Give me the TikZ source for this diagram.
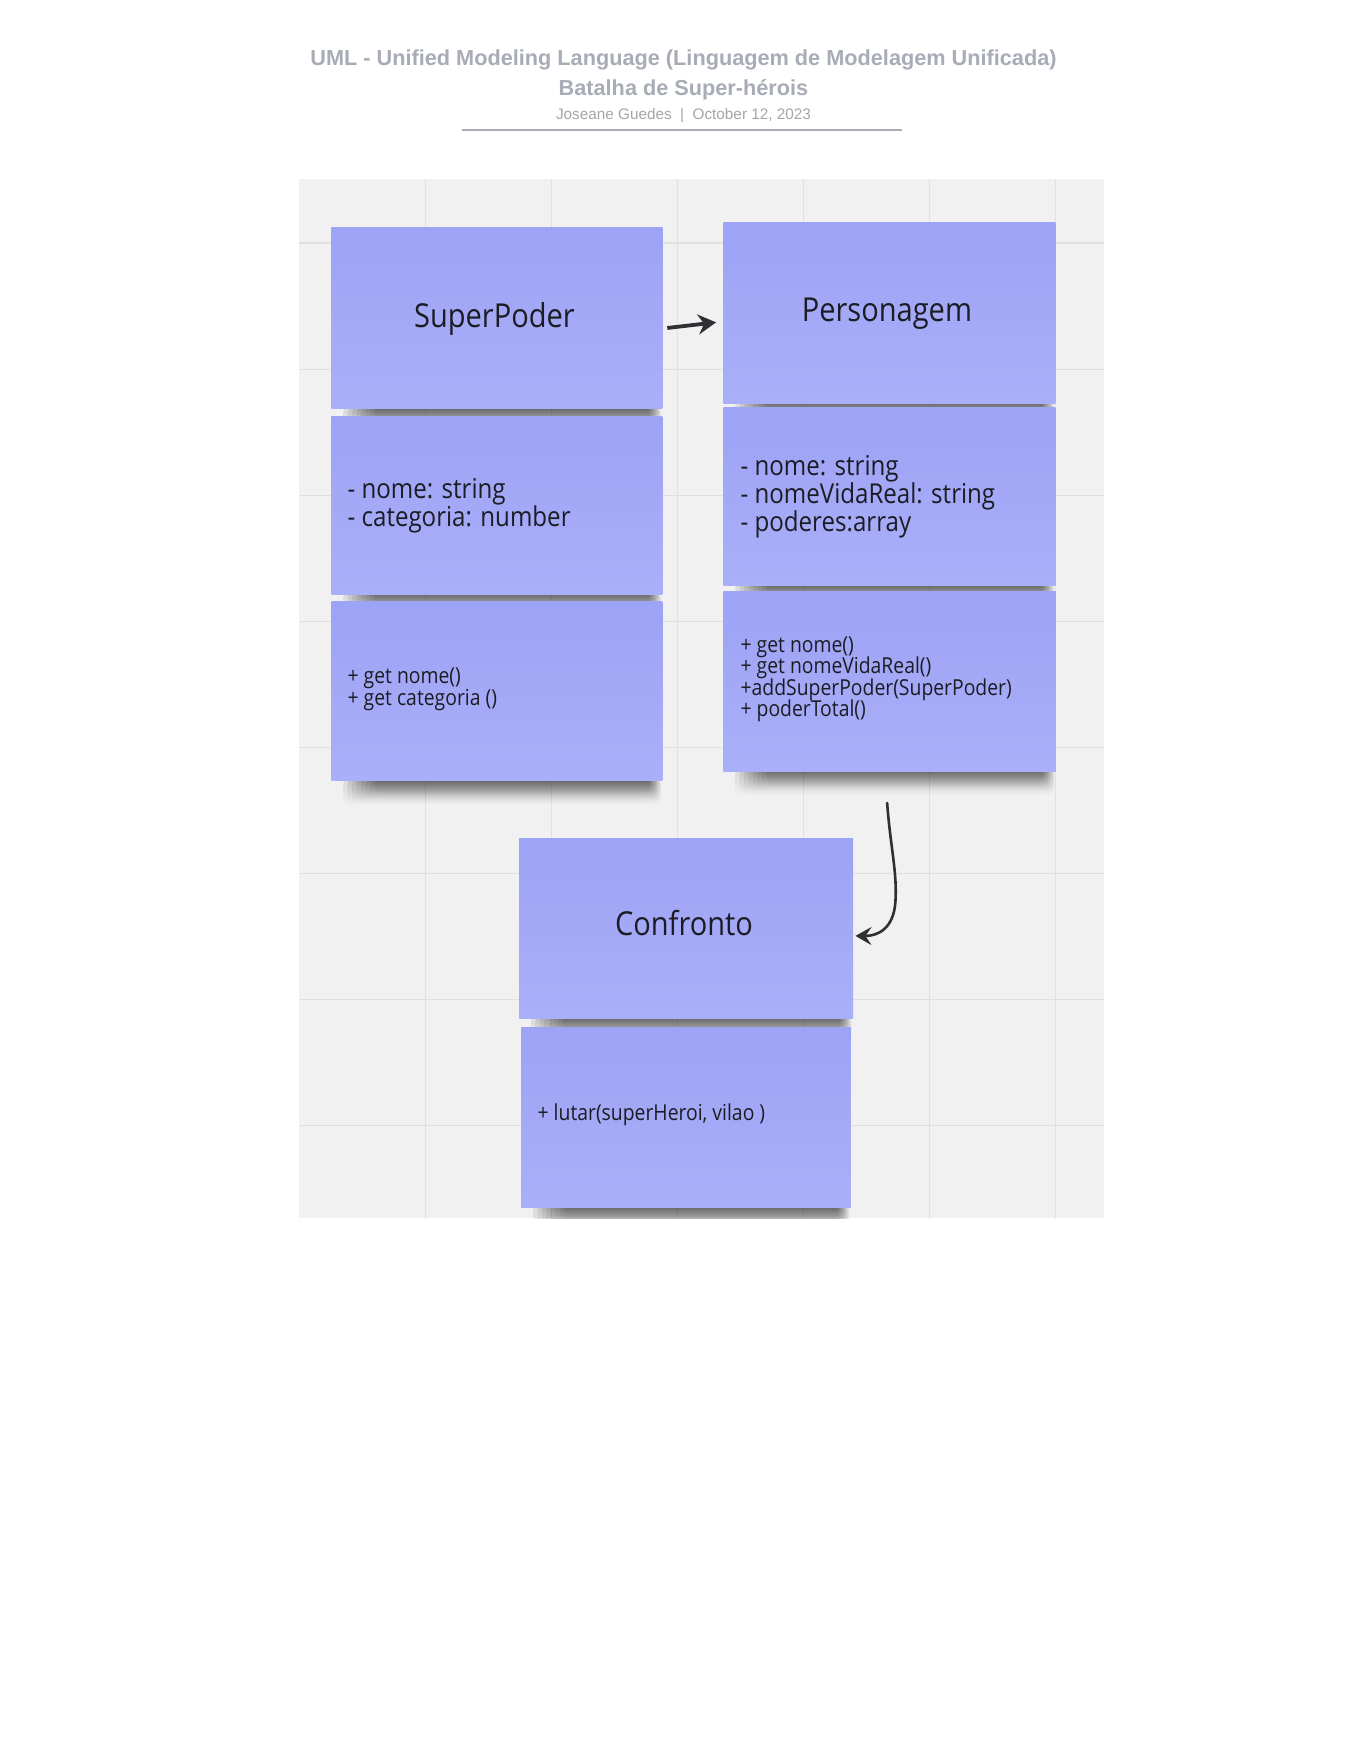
\documentclass[tikz,border=0pt]{standalone}
\usepackage{fontspec}
\setmainfont{Liberation Sans}
\newfontfamily\stickyfont[FakeStretch=0.88]{Open Sans}
\usetikzlibrary{arrows.meta,calc,fadings}
\definecolor{titlegrey}{RGB}{168,172,182}
\definecolor{metagrey}{RGB}{165,165,170}
\definecolor{boardbg}{RGB}{241,241,241}
\definecolor{gridline}{RGB}{224,224,224}
\definecolor{stickytop}{RGB}{157,163,245}
\definecolor{stickybot}{RGB}{169,175,248}
\definecolor{inktext}{RGB}{28,28,36}
\definecolor{arrowink}{RGB}{48,48,52}
\tikzfading[name=shadowfade, top color=transparent!0, bottom color=transparent!100]
\pgfdeclarelayer{boardlayer}
\pgfdeclarelayer{shadowlayer}
\pgfsetlayers{boardlayer,shadowlayer,main}
\tikzset{
  sticky/.style={rectangle, inner sep=0pt, top color=stickytop, bottom color=stickybot, draw=none},
  shadowband/.style={fill=black, opacity=0.11, path fading=shadowfade, rounded corners=4pt},
  headtext/.style={font=\stickyfont\fontsize{16.5}{18}\selectfont, text=inktext, inner sep=0pt},
  attrtext/.style={font={\stickyfont\fontsize{13.7}{13.9}\selectfont\lineskiplimit=-20pt}, text=inktext, inner sep=0pt, align=left, anchor=west},
  methtext/.style={font={\stickyfont\fontsize{11}{10.65}\selectfont\lineskiplimit=-20pt}, text=inktext, inner sep=0pt, align=left, anchor=west},
  titletext/.style={font=\bfseries\fontsize{10.85}{12}\selectfont, text=titlegrey, inner sep=0pt, anchor=base},
  metatext/.style={font=\fontsize{7.65}{8.5}\selectfont, text=metagrey, inner sep=0pt, anchor=base},
  connA/.style={draw=arrowink, line width=1.9pt, -{Stealth[length=9pt,width=10pt,inset=3pt]}},
  connB/.style={draw=arrowink, line width=1.3pt, line cap=round, -{Stealth[length=8pt,width=9pt,inset=3pt]}}
}
\newcommand\stickyshadow[1]{%
  \begin{pgfonlayer}{shadowlayer}
  \begin{scope}
  \clip (301,180) rectangle (1110,1222);
  \foreach \k in {0,...,7}{%
    \path[shadowband] ($(#1.south west)+(12+4.5*\k,-4)$) rectangle ($(#1.south east)+(-2-1.6*\k,25-1.8*\k)$);
  }
  \end{scope}
  \end{pgfonlayer}}
\begin{document}
\begin{tikzpicture}[x=0.4975pt,y=-0.4985pt]
\useasboundingbox (0,0) rectangle (1366.8,1765.5);
\begin{pgfonlayer}{boardlayer}
\fill[white] (0,0) rectangle (1366.8,1765.5);
% board
\fill[boardbg] (301,180) rectangle (1110,1222);
\foreach \gx in {427.6,554.2,680.8,807.4,934,1060.6}
  \draw[gridline, line width=0.6pt] (\gx,180) -- (\gx,1222);
\foreach \gy in {243.8,370.3,496.8,623.3,749.8,876.3,1002.8,1129.3}
  \draw[gridline, line width=0.6pt] (301,\gy) -- (1110,\gy);
\end{pgfonlayer}

% header
\node[titletext] (title1) at (687,66) {UML - Unified Modeling Language (Linguagem de Modelagem Unificada)};
\node[titletext] (title2) at (687,95.5) {Batalha de Super-hérois};
\node[metatext] (meta) at (687,120) {Joseane Guedes\ \ |\ \ October 12, 2023};
\draw[titlegrey, line width=1pt] (464,130) -- (907,130);

% SuperPoder
\node[sticky, minimum width=165.5pt, minimum height=91pt] (spH) at (499.5,319) {};
\node[headtext] (spHt) at (497,320.3) {SuperPoder};
\node[sticky, minimum width=165.5pt, minimum height=89.2pt] (spA) at (499.5,506.8) {};
\node[attrtext] (spAt) at (349,507.5) {- nome: string\\- categoria: number};
\node[sticky, minimum width=165.5pt, minimum height=89.5pt] (spM) at (499.5,693.5) {};
\node[methtext] (spMt) at (349,691.3) {+ get nome()\\+ get categoria ()};

% Personagem
\node[sticky, minimum width=166pt, minimum height=90.25pt] (pH) at (894,313.75) {};
\node[headtext] (pHt) at (891.5,314.4) {Personagem};
\node[sticky, minimum width=166pt, minimum height=89.2pt] (pA) at (894,497.8) {};
\node[attrtext] (pAt) at (744,498) {- nome: string\\- nomeVidaReal: string\\- poderes:array};
\node[sticky, minimum width=166.25pt, minimum height=89.75pt] (pM) at (894.2,683.5) {};
\node[methtext] (pMt) at (744,681.3) {+ get nome()\\+ get nomeVidaReal()\\+addSuperPoder(SuperPoder)\\+ poderTotal()};

% Confronto
\node[sticky, minimum width=167pt, minimum height=90.25pt] (cH) at (689.6,931.2) {};
\node[headtext] (cHt) at (687.5,925.6) {Confronto};
\node[sticky, minimum width=164.8pt, minimum height=90.25pt] (cM) at (689.6,1120.8) {};
\node[methtext] (cMt) at (540,1118) {+ lutar(superHeroi, vilao )};

% shadows
\stickyshadow{spH}\stickyshadow{spA}\stickyshadow{spM}
\stickyshadow{pH}\stickyshadow{pA}\stickyshadow{pM}
\stickyshadow{cH}\stickyshadow{cM}

% connectors
\coordinate (a1s) at ($(spH.east)+(4.5,10)$);
\coordinate (a1e) at ($(pH.west)+(-7,9.6)$);
\draw[connA] (a1s) -- (a1e);
\coordinate (a2s) at ($(pM.south)+(-2.5,31.5)$);
\coordinate (a2e) at ($(cH.east)+(2,7.6)$);
\draw[connB] (a2s) .. controls (895,850) and (902,875) .. (900,905) .. controls (898,932) and (882,939) .. (a2e);
\end{tikzpicture}
\end{document}
